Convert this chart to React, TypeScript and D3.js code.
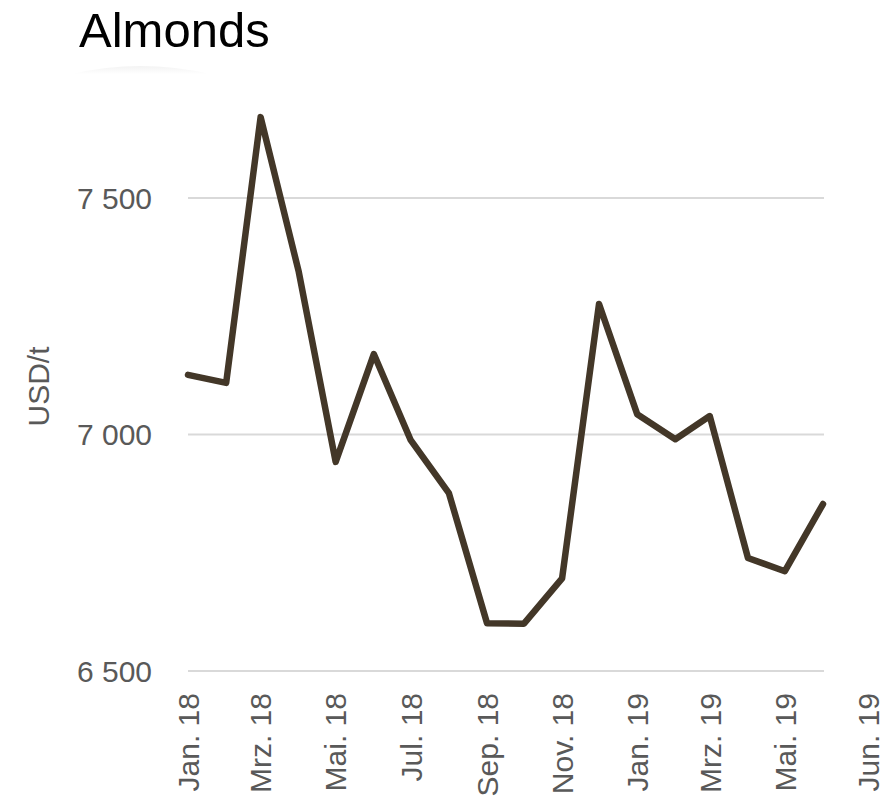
import React from "react";
import * as d3 from "d3";

// Monthly almond prices, Jan 2018 – Jun 2019 (USD per tonne)
const months: string[] = [
  "2018-01", "2018-02", "2018-03", "2018-04", "2018-05", "2018-06",
  "2018-07", "2018-08", "2018-09", "2018-10", "2018-11", "2018-12",
  "2019-01", "2019-02", "2019-03", "2019-04", "2019-05", "2019-06",
];
const prices: number[] = [
  7126, 7109, 7671, 7344, 6942, 7170,
  6988, 6876, 6601, 6600, 6696, 7276,
  7043, 6990, 7039, 6739, 6711, 6853,
];
const yTicks: number[] = [6500, 7000, 7500];
const xTickMonths: string[] = [
  "2018-01", "2018-03", "2018-05", "2018-07", "2018-09",
  "2018-11", "2019-01", "2019-03", "2019-05",
];
const xTickLabels: string[] = [
  "Jan. 18", "Mrz. 18", "Mai. 18", "Jul. 18", "Sep. 18",
  "Nov. 18", "Jan. 19", "Mrz. 19", "Mai. 19",
];
const axisEndLabel = "Jun. 19";
const title = "Almonds";
const yLabel = "USD/t";

const W = 892;
const H = 801;
const plot = { left: 188, right: 823, top: 198, bottom: 671 };
const FONT = "'Liberation Sans', Arial, Helvetica, sans-serif";

export default function App() {
  const parse = d3.timeParse("%Y-%m");
  const dates = months.map((m) => parse(m) as Date);

  const x = d3
    .scaleTime()
    .domain([dates[0], dates[dates.length - 1]])
    .range([plot.left, plot.right]);
  const y = d3.scaleLinear().domain([6500, 7500]).range([plot.bottom, plot.top]);

  const line = d3
    .line<number>()
    .x((_, i) => x(dates[i]))
    .y((d) => y(d));

  const fmt = (v: number) => d3.format(",")(v).replace(",", " ");

  const labelTop = plot.bottom + 22;

  return (
    <svg
      width={W}
      height={H}
      style={{ position: "absolute", left: 0, top: 0, background: "#fff" }}
      fontFamily={FONT}
    >
      <defs>
        <linearGradient id="titleShade" x1="0" y1="0" x2="0" y2="1">
          <stop offset="0%" stopColor="#f3f3f3" />
          <stop offset="100%" stopColor="#ffffff" />
        </linearGradient>
      </defs>

      {/* soft shading under the title */}
      <path d="M 72 74 Q 140 58 210 74 Z" fill="url(#titleShade)" />

      <text x={79} y={47} fontSize={49} fill="#000">
        {title}
      </text>

      {/* gridlines */}
      {yTicks.map((t) => (
        <line
          key={t}
          x1={plot.left}
          x2={plot.right + 1}
          y1={y(t)}
          y2={y(t)}
          stroke="#d9d9d9"
          strokeWidth={2}
        />
      ))}

      {/* y tick labels */}
      {yTicks.map((t) => (
        <text
          key={"yl" + t}
          x={152}
          y={y(t)}
          dy="0.36em"
          textAnchor="end"
          fontSize={30}
          fill="#595959"
        >
          {fmt(t)}
        </text>
      ))}

      {/* y axis title */}
      <text
        transform={`translate(38, ${(plot.top + plot.bottom) / 2 - 48}) rotate(-90)`}
        dy="0.36em"
        textAnchor="middle"
        fontSize={30}
        fill="#595959"
      >
        {yLabel}
      </text>

      {/* x tick labels */}
      {xTickMonths.map((m, i) => {
        const cx = x(parse(m) as Date);
        return (
          <text
            key={m}
            transform={`translate(${cx}, ${labelTop}) rotate(-90)`}
            dy="0.36em"
            textAnchor="end"
            fontSize={30}
            fill="#595959"
          >
            {xTickLabels[i]}
          </text>
        );
      })}
      <text
        transform={`translate(${plot.right + 45}, ${labelTop}) rotate(-90)`}
        dy="0.36em"
        textAnchor="end"
        fontSize={30}
        fill="#595959"
      >
        {axisEndLabel}
      </text>

      {/* price line */}
      <path
        d={line(prices) ?? ""}
        fill="none"
        stroke="#433728"
        strokeWidth={6.5}
        strokeLinejoin="round"
        strokeLinecap="round"
      />
    </svg>
  );
}
